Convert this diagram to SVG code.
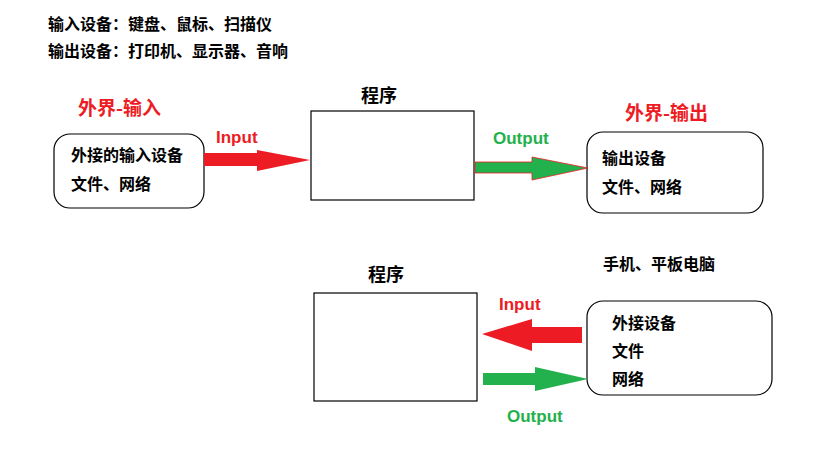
<svg xmlns="http://www.w3.org/2000/svg" width="824" height="452" viewBox="0 0 824 452">
<style>
text{font-family:"Microsoft YaHei","Noto Sans CJK SC","Liberation Sans",sans-serif;font-weight:bold}
.t{font-size:16px;fill:#000}
.h{font-size:18px;fill:#000}
.r{font-size:19px;fill:#ED1C24}
.lr{font-family:"Liberation Sans","Noto Sans CJK SC",sans-serif;font-size:17px;fill:#ED1C24}
.lg{font-family:"Liberation Sans","Noto Sans CJK SC",sans-serif;font-size:17px;fill:#22B14C}
.box{fill:#fff;stroke:#000;stroke-width:1.2}
.red{fill:#ED1C24}
.green{fill:#22B14C}
</style>
<rect width="824" height="452" fill="#fff"/>
<g id="notes">
<text class="t" x="48" y="30">输入设备：键盘、鼠标、扫描仪</text>
<text class="t" x="48" y="57">输出设备：打印机、显示器、音响</text>
</g>
<g id="input-source">
<text class="r" x="78" y="115">外界-输入</text>
<rect class="box" x="54" y="134" width="150" height="74" rx="16"/>
<text class="t" x="71" y="161">外接的输入设备</text>
<text class="t" x="71" y="190">文件、网络</text>
</g>
<g id="program-top">
<text class="h" x="361" y="102">程序</text>
<rect class="box" x="311" y="111" width="163" height="89"/>
</g>
<g id="output-target">
<text class="r" x="625" y="120">外界-输出</text>
<rect class="box" x="587" y="132" width="176" height="81" rx="16"/>
<text class="t" x="602" y="164">输出设备</text>
<text class="t" x="602" y="193">文件、网络</text>
</g>
<g id="program-bottom">
<text class="h" x="368" y="281">程序</text>
<rect class="box" x="314" y="293" width="163" height="108"/>
</g>
<g id="device">
<text class="t" x="603" y="270">手机、平板电脑</text>
<rect class="box" x="587" y="301" width="185" height="94" rx="16"/>
<text class="t" x="612" y="329">外接设备</text>
<text class="t" x="612" y="357">文件</text>
<text class="t" x="612" y="385">网络</text>
</g>
<g id="connectors">
<polygon class="red" points="204,153 257,153 257,150 310,160 257,171 257,166 204,166"/>
<text class="lr" x="216" y="143">Input</text>
<polygon class="green" stroke="#ED1C24" stroke-width="0.8" points="475,162 532,162 532,157 588,168 532,180 532,173 475,173"/>
<text class="lg" x="493" y="144">Output</text>
<polygon class="red" points="582,327 532,327 532,319 482,334 532,351 532,343 582,343"/>
<text class="lr" x="499" y="310">Input</text>
<polygon class="green" points="483,373 535,373 535,367 588,379 535,391 535,385 483,385"/>
<text class="lg" x="507" y="422">Output</text>
</g>
</svg>
